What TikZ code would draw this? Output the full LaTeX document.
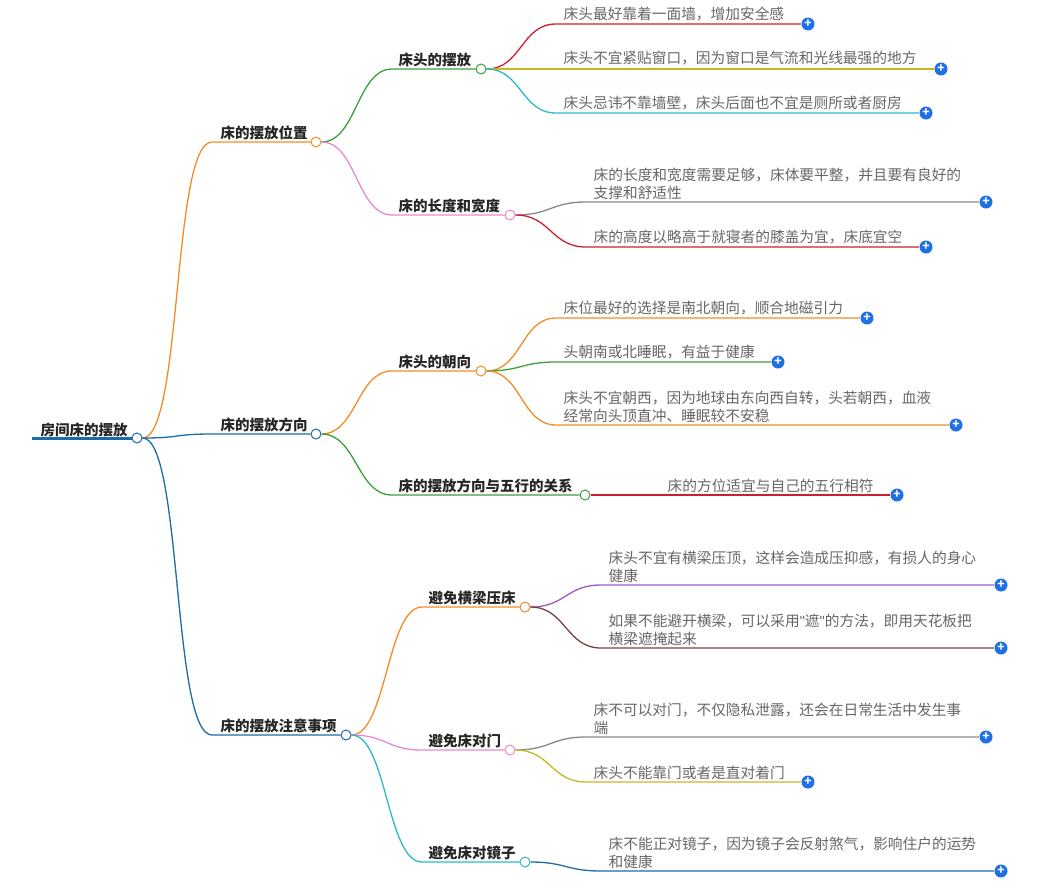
\documentclass[tikz,border=0pt]{standalone}
\usepackage{fontspec}
\setmainfont{Noto Sans CJK SC}
\newfontfamily\qfont{Liberation Sans}
\definecolor{cO}{HTML}{F28C28}
\definecolor{cB}{HTML}{1F6BA5}
\definecolor{cG}{HTML}{3C9E3C}
\definecolor{cP}{HTML}{E88ACD}
\definecolor{cR}{HTML}{CC1F2F}
\definecolor{cY}{HTML}{C8B820}
\definecolor{cC}{HTML}{2FB8CC}
\definecolor{cGr}{HTML}{888888}
\definecolor{cPu}{HTML}{9B5CC0}
\definecolor{cBr}{HTML}{7A4040}
\definecolor{pb}{HTML}{1F6FE5}
\definecolor{tx}{HTML}{666666}
\begin{document}
\begin{tikzpicture}[x=1pt,y=-1pt,line width=1.3pt,
 dot/.style={circle,draw=#1,fill=white,inner sep=0,minimum size=10pt,line width=1pt},
 plus/.style={circle,fill=pb,text=white,inner sep=0,minimum size=13pt,font=\bfseries\fontsize{12}{12}\selectfont},
 br/.style={anchor=base west,inner sep=0,text=black!85,font=\bfseries\fontsize{14.5}{17}\selectfont},
 lf/.style={anchor=south west,inner sep=0,align=left,text=tx,font=\fontsize{14.7}{18}\selectfont}]
\useasboundingbox (0,0) rectangle (1046,892);
% root
\node[br] (root) at (40,435) {房间床的摆放};
\node[dot=cB] (r) at (137,438) {};
\draw[cB,line width=3pt] (32,438) -- (r.west);
% level 1
\node[dot=cO] (a) at (316,142) {};
\node[dot=cB] (b) at (316,434) {};
\node[dot=cB] (c) at (346,735) {};
\node[br] (at) at (220,138) {床的摆放位置};
\node[br] (bt) at (220,430) {床的摆放方向};
\node[br] (ct) at (220,731) {床的摆放注意事项};
\draw[cO] (r.east) .. controls +(40,0) and +(-40,0) .. (212,142) -- (a.west);
\draw[cB] (r.east) .. controls +(40,0) and +(-40,0) .. (212,434) -- (b.west);
\draw[cB] (r.east) .. controls +(40,0) and +(-40,0) .. (212,735) -- (c.west);
% level 2
\node[dot=cG] (a1) at (481,69) {};
\node[dot=cP] (a2) at (510,215) {};
\node[dot=cO] (b1) at (481,371) {};
\node[dot=cG] (b2) at (585,495) {};
\node[dot=cO] (c1) at (525,607) {};
\node[dot=cP] (c2) at (510,750) {};
\node[dot=cC] (c3) at (525,862) {};
\node[br] at (398,65) {床头的摆放};
\node[br] at (398,211) {床的长度和宽度};
\node[br] at (398,367) {床头的朝向};
\node[br] at (398,491) {床的摆放方向与五行的关系};
\node[br] at (428,603) {避免横梁压床};
\node[br] at (428,746) {避免床对门};
\node[br] at (428,858) {避免床对镜子};
\draw[cG] (a.east) .. controls +(35,0) and +(-35,0) .. (392,69) -- (a1.west);
\draw[cP] (a.east) .. controls +(35,0) and +(-35,0) .. (392,215) -- (a2.west);
\draw[cO] (b.east) .. controls +(35,0) and +(-35,0) .. (392,371) -- (b1.west);
\draw[cG] (b.east) .. controls +(35,0) and +(-35,0) .. (392,495) -- (b2.west);
\draw[cO] (c.east) .. controls +(35,0) and +(-35,0) .. (422,607) -- (c1.west);
\draw[cP] (c.east) .. controls +(35,0) and +(-35,0) .. (422,750) -- (c2.west);
\draw[cC] (c.east) .. controls +(35,0) and +(-35,0) .. (422,862) -- (c3.west);
% leaves
\node[plus] (l1) at (808,24) {+};
\node[plus] (l2) at (941,69) {+};
\node[plus] (l3) at (926,113) {+};
\node[plus] (l4) at (986,202) {+};
\node[plus] (l5) at (926,247) {+};
\node[plus] (l6) at (867,318) {+};
\node[plus] (l7) at (778,362) {+};
\node[plus] (l8) at (956,425) {+};
\node[plus] (l9) at (897,495) {+};
\node[plus] (l10) at (1001,585) {+};
\node[plus] (l11) at (1001,648) {+};
\node[plus] (l12) at (986,737) {+};
\node[plus] (l13) at (808,782) {+};
\node[plus] (l14) at (1001,871) {+};
\node[lf] at (563,22) {床头最好靠着一面墙，增加安全感};
\node[lf] at (563,66) {床头不宜紧贴窗口，因为窗口是气流和光线最强的地方};
\node[lf] at (563,111) {床头忌讳不靠墙壁，床头后面也不宜是厕所或者厨房};
\node[lf] at (593,200) {床的长度和宽度需要足够，床体要平整，并且要有良好的\\支撑和舒适性};
\node[lf] at (593,245) {床的高度以略高于就寝者的膝盖为宜，床底宜空};
\node[lf] at (563,316) {床位最好的选择是南北朝向，顺合地磁引力};
\node[lf] at (563,360) {头朝南或北睡眠，有益于健康};
\node[lf] at (563,423) {床头不宜朝西，因为地球由东向西自转，头若朝西，血液\\经常向头顶直冲、睡眠较不安稳};
\node[lf] at (667,493) {床的方位适宜与自己的五行相符};
\node[lf] at (608,583) {床头不宜有横梁压顶，这样会造成压抑感，有损人的身心\\健康};
\node[lf] at (608,646) {如果不能避开横梁，可以采用{\qfont"}遮{\qfont"}的方法，即用天花板把\\横梁遮掩起来};
\node[lf] at (593,735) {床不可以对门，不仅隐私泄露，还会在日常生活中发生事\\端};
\node[lf] at (593,780) {床头不能靠门或者是直对着门};
\node[lf] at (608,869) {床不能正对镜子，因为镜子会反射煞气，影响住户的运势\\和健康};
\draw[cR] (a1.east) .. controls +(35,0) and +(-35,0) .. (556,24) -- (l1.west);
\draw[cY] (a1.east) -- (l2.west);
\draw[cC] (a1.east) .. controls +(35,0) and +(-35,0) .. (556,113) -- (l3.west);
\draw[cGr] (a2.east) .. controls +(35,0) and +(-35,0) .. (586,202) -- (l4.west);
\draw[cR] (a2.east) .. controls +(35,0) and +(-35,0) .. (586,247) -- (l5.west);
\draw[cO] (b1.east) .. controls +(35,0) and +(-35,0) .. (556,318) -- (l6.west);
\draw[cG] (b1.east) .. controls +(35,0) and +(-35,0) .. (556,362) -- (l7.west);
\draw[cO] (b1.east) .. controls +(35,0) and +(-35,0) .. (556,425) -- (l8.west);
\draw[cR] (b2.east) -- (l9.west);
\draw[cPu] (c1.east) .. controls +(35,0) and +(-35,0) .. (601,585) -- (l10.west);
\draw[cBr] (c1.east) .. controls +(35,0) and +(-35,0) .. (601,648) -- (l11.west);
\draw[cGr] (c2.east) .. controls +(35,0) and +(-35,0) .. (586,737) -- (l12.west);
\draw[cY] (c2.east) .. controls +(35,0) and +(-35,0) .. (586,782) -- (l13.west);
\draw[cB] (c3.east) .. controls +(35,0) and +(-35,0) .. (601,871) -- (l14.west);
\end{tikzpicture}
\end{document}
